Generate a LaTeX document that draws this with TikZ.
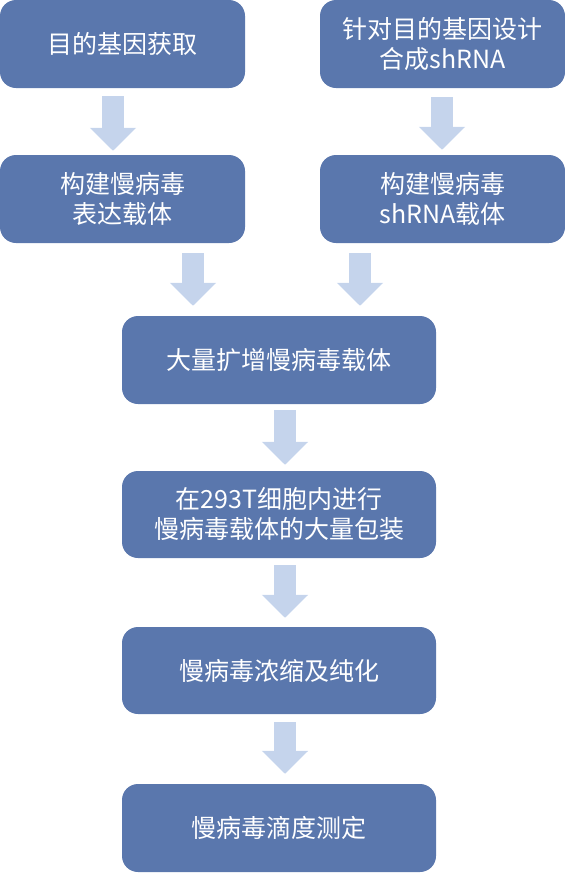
\documentclass[tikz,border=0pt]{standalone}
\usepackage{fontspec}
\setmainfont{Noto Sans CJK SC}
\usetikzlibrary{positioning,arrows.meta,calc}
\definecolor{boxblue}{HTML}{5A77AD}
\definecolor{arrblue}{HTML}{C5D4EC}
\tikzset{
  procbox/.style={rectangle,rounded corners=16pt,fill=boxblue,text=white,
    minimum width=245pt,minimum height=88pt,inner sep=0pt,align=center,
    font=\fontsize{25}{30}\selectfont},
  widebox/.style={procbox,minimum width=314pt},
  blkarr/.style={draw=arrblue,line width=22pt,-{Triangle[length=23pt,width=45pt]}},
}
\begin{document}
\begin{tikzpicture}[x=1pt,y=-1pt]
  \useasboundingbox (0,0) rectangle (565,873);
  % top row
  \node[procbox] (gene) at (122.5,44) {目的基因获取};
  \node[procbox] (shdes) at (442.5,44) {针对目的基因设计\\合成shRNA};
  \node[procbox] (expv) at (122.5,199) {构建慢病毒\\表达载体};
  \node[procbox] (shv) at (442.5,199) {构建慢病毒\\shRNA载体};
  % main column
  \node[widebox] (amp) at (279,360) {大量扩增慢病毒载体};
  \node[widebox,minimum height=87pt] (pack) at (279,514.5) {在293T细胞内进行\\慢病毒载体的大量包装};
  \node[widebox,minimum height=87pt] (conc) at (279,670.5) {慢病毒浓缩及纯化};
  \node[widebox] (titer) at (279,828) {慢病毒滴度测定};
  % block arrows
  \draw[blkarr] ([xshift=-9.5,yshift=-8]gene.south) -- ([xshift=-9.5,yshift=4]expv.north);
  \draw[blkarr] ([xshift=-0.5,yshift=-9]shdes.south) -- ([xshift=-0.5,yshift=5]shv.north);
  \draw[blkarr] ([xshift=70.5,yshift=-10]expv.south) -- ([xshift=-86,yshift=10]amp.north);
  \draw[blkarr] ([xshift=-82.5,yshift=-10]shv.south) -- ([xshift=81,yshift=10]amp.north);
  \draw[blkarr] ([xshift=6,yshift=-6]amp.south) -- ([xshift=6,yshift=6]pack.north);
  \draw[blkarr] ([xshift=6,yshift=-7]pack.south) -- ([xshift=6,yshift=9]conc.north);
  \draw[blkarr] ([xshift=6,yshift=-8]conc.south) -- ([xshift=6,yshift=10]titer.north);
\end{tikzpicture}
\end{document}
